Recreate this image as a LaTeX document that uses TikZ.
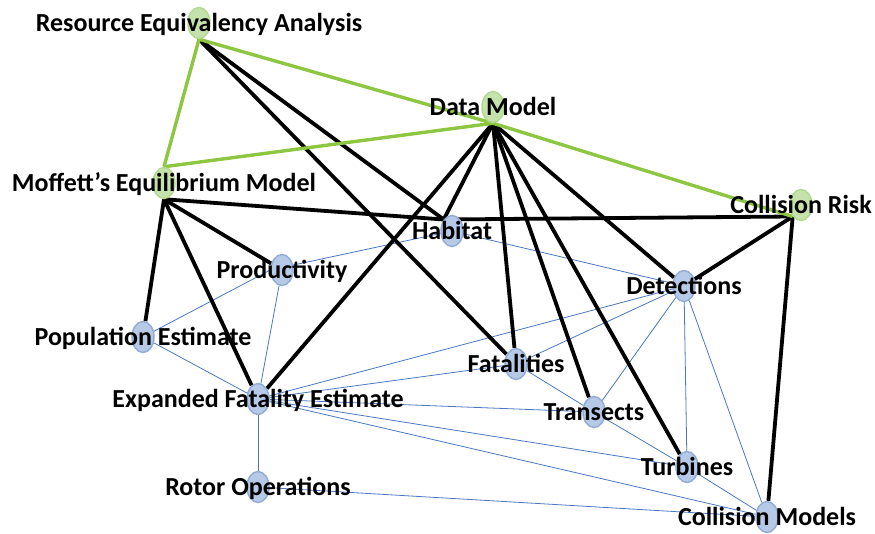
\documentclass[tikz,border=0pt]{standalone}
\usepackage{fontspec}
\setmainfont{Carlito}
\setsansfont{Carlito}
\usepackage{tikz}
\usetikzlibrary{shapes.geometric, backgrounds}
\definecolor{hubfill}{HTML}{C6E2AC}
\definecolor{hubdraw}{HTML}{B3D98F}
\definecolor{leaffill}{HTML}{B6C9E6}
\definecolor{leafdraw}{HTML}{93ADD5}
\definecolor{hubline}{HTML}{8DC641}
\definecolor{leafline}{HTML}{4A78C2}
\tikzset{
  every picture/.style={font=\sffamily\bfseries\fontsize{26}{30}\selectfont},
  hub/.style={ellipse, draw=hubdraw, fill=hubfill, line width=1.5pt,
              minimum width=22pt, minimum height=31pt, inner sep=0pt},
  leaf/.style={hub, draw=leafdraw, fill=leaffill},
  tag/.style={inner sep=0pt, text height=16.5pt, text depth=0pt},
  tie/.style={line width=3.8pt, black},
  hubtie/.style={line width=3.4pt, hubline},
  weak/.style={line width=0.8pt, leafline},
}

\begin{document}
\begin{tikzpicture}[x=1pt, y=-1pt]
  \useasboundingbox (0,0) rectangle (875,534);
  % green hubs
  \node[hub] (rea) at (199,23) {};
  \node[hub] (dm) at (493,107) {};
  \node[hub] (mem) at (164,183) {};
  \node[hub] (cr) at (801,205) {};
  % blue leaves
  \node[leaf] (hab) at (452,231) {};
  \node[leaf] (prod) at (282,270) {};
  \node[leaf] (det) at (684,286) {};
  \node[leaf] (pop) at (143,337) {};
  \node[leaf] (fat) at (516,364) {};
  \node[leaf] (efe) at (258,399) {};
  \node[leaf] (tra) at (594,412) {};
  \node[leaf] (tur) at (687,467) {};
  \node[leaf] (rot) at (258,487) {};
  \node[leaf] (col) at (767,517) {};

  \begin{scope}[on background layer]
    % thin links
    \draw[weak] (prod.west) -- (hab); \draw[weak] (hab) -- (det);
    \draw[weak] (prod.west) -- (pop); \draw[weak] (prod) -- (efe);
    \draw[weak] (pop) -- (efe); \draw[weak] (efe) -- (rot);
    \draw[weak] (efe) -- (det); \draw[weak] (efe) -- (fat);
    \draw[weak] (efe) -- (tra); \draw[weak] (efe) -- (tur);
    \draw[weak] (efe) -- (col); \draw[weak] (rot) -- (col);
    \draw[weak] (fat) -- (det); \draw[weak] (fat) -- (tra);
    \draw[weak] (tra) -- (det); \draw[weak] (tra) -- (tur);
    \draw[weak] (det) -- (tur); \draw[weak] (det) -- (col);
    \draw[weak] (tur) -- (col);
    % black links
    \draw[tie] (rea.south) -- (hab.north west); \draw[tie] (rea.south) -- (fat);
    \draw[tie] (dm.south) -- (hab.north west); \draw[tie] (dm.south) -- (efe);
    \draw[tie] (dm.south) -- (fat); \draw[tie] (dm.south) -- (tra);
    \draw[tie] (dm.south) -- (tur); \draw[tie] (dm.south) -- (det);
    \draw[tie] (mem.south) -- (hab.north west); \draw[tie] (mem.south) -- (pop);
    \draw[tie] (mem.south) -- (efe); \draw[tie] (mem.south) -- (prod);
    \draw[tie] (cr.south west) -- (hab.north west); \draw[tie] (cr.south west) -- (det);
    \draw[tie] (cr.south west) -- (col);
    % green links
    \draw[hubtie] (rea.south) -- (mem.north); \draw[hubtie] (rea.south) -- (dm.south);
    \draw[hubtie] (mem.north) -- (dm.south); \draw[hubtie] (dm.south) -- (cr.south west);
  \end{scope}

  % labels
  \node[tag] (rea-t) at (rea) {Resource Equivalency Analysis};
  \node[tag] (dm-t) at (dm) {Data Model};
  \node[tag] (mem-t) at (mem) {Moffett’s Equilibrium Model};
  \node[tag] (cr-t) at (cr) {Collision Risk};
  \node[tag] (hab-t) at (hab) {Habitat};
  \node[tag] (prod-t) at (prod) {Productivity};
  \node[tag] (det-t) at (det) {Detections};
  \node[tag] (pop-t) at (pop) {Population Estimate};
  \node[tag] (fat-t) at (fat) {Fatalities};
  \node[tag] (efe-t) at (efe) {Expanded Fatality Estimate};
  \node[tag] (tra-t) at (tra) {Transects};
  \node[tag] (tur-t) at (tur) {Turbines};
  \node[tag] (rot-t) at (rot) {Rotor Operations};
  \node[tag] (col-t) at (col) {Collision Models};
\end{tikzpicture}
\end{document}
